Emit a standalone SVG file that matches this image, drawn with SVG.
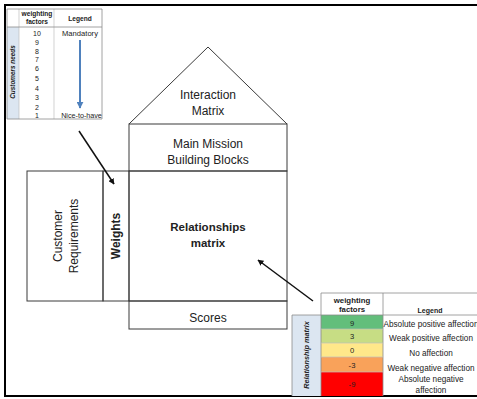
<svg xmlns="http://www.w3.org/2000/svg" width="477" height="399" viewBox="0 0 477 399">
<defs>
<style>
.h{fill:none;stroke:#3a3a3a;stroke-width:1}
.t{font-family:"Liberation Sans",Arial,sans-serif;fill:#222;text-anchor:middle}
.big{font-size:12px}
.bold{font-weight:bold}
.sm{font-size:7px}
.md{font-size:8.2px}
.grid{stroke:#bfbfbf;stroke-width:0.7;fill:none}
.bd{stroke:#8c8c8c;stroke-width:0.8;fill:none}
.frame{stroke:#000;stroke-width:2;fill:none}
.conn{stroke:#111;stroke-width:1.5;fill:none}
</style>
<marker id="ah" viewBox="0 0 10 10" refX="9" refY="5" markerWidth="6" markerHeight="6" orient="auto" markerUnits="userSpaceOnUse">
<path d="M0,0 L10,5 L0,10 z" fill="#111"/>
</marker>
<marker id="bh" viewBox="0 0 10 10" refX="9" refY="5" markerWidth="7" markerHeight="7" orient="auto" markerUnits="userSpaceOnUse">
<path d="M0,0 L10,5 L0,10 z" fill="#4f81bd"/>
</marker>
</defs>
<rect x="0" y="0" width="477" height="399" fill="#fff"/>
<path class="frame" d="M477,5 H5 V396 H477"/>

<g id="interaction-matrix">
<path class="h" d="M129,124 L208,47 L287,124"/>
<text class="t big" x="208" y="99">Interaction</text>
<text class="t big" x="208" y="115">Matrix</text>
</g>
<g id="main-mission">
<rect class="h" x="129" y="124" width="158" height="47"/>
<text class="t big" x="208" y="148">Main Mission</text>
<text class="t big" x="208" y="164">Building Blocks</text>
</g>
<g id="relationships-matrix">
<rect class="h" x="129" y="171" width="158" height="130"/>
<text class="t bold" font-size="11.5" x="208" y="231">Relationships</text>
<text class="t bold" font-size="11.5" x="208" y="247">matrix</text>
</g>
<g id="customer-requirements">
<rect class="h" x="27" y="171" width="76" height="130"/>
<text class="t big" transform="translate(62,236) rotate(-90)">Customer</text>
<text class="t big" transform="translate(78,236) rotate(-90)">Requirements</text>
</g>
<g id="weights">
<rect class="h" x="103" y="171" width="26" height="130"/>
<text class="t big bold" transform="translate(120,236) rotate(-90)">Weights</text>
</g>
<g id="scores">
<rect class="h" x="129" y="301" width="158" height="28"/>
<text class="t big" x="208" y="322">Scores</text>
</g>

<g id="customer-needs-table">
<rect x="7" y="27" width="12" height="92" fill="#dce6f1"/>
<path class="grid" d="M19,9 V119 M54,9 V119"/>
<path class="bd" d="M7,9 H102 V119 H7 Z M7,27 H102"/>
<text class="t bold" font-size="6.4" font-style="italic" transform="translate(15.3,72) rotate(-90)">Customers needs</text>
<text class="t bold" font-size="6.6" x="37" y="15.5">weighting</text>
<text class="t bold" font-size="6.6" x="37" y="24">factors</text>
<text class="t bold" font-size="6.6" x="80" y="21">Legend</text>
<g class="t sm">
<text x="37" y="35.5">10</text>
<text x="37" y="44.5">9</text>
<text x="37" y="53.5">8</text>
<text x="37" y="61.5">7</text>
<text x="37" y="70.5">6</text>
<text x="37" y="80.5">5</text>
<text x="37" y="90.5">4</text>
<text x="37" y="99.5">3</text>
<text x="37" y="109.5">2</text>
<text x="37" y="118">1</text>
<text x="80" y="35.5" font-size="7.6">Mandatory</text>
<text x="81.5" y="118" font-size="7.2">Nice-to-have</text>
</g>
<line x1="80" y1="40" x2="80" y2="108" stroke="#4f81bd" stroke-width="2" marker-end="url(#bh)"/>
</g>

<g id="relationship-table">
<rect x="292" y="315" width="29" height="81" fill="#dce6f1"/>
<rect x="321" y="315" width="62" height="14" fill="#63be7b"/>
<rect x="321" y="329" width="62" height="14" fill="#c7dd84"/>
<rect x="321" y="343" width="62" height="14" fill="#ffe88a"/>
<rect x="321" y="357" width="62" height="15" fill="#f9a25a"/>
<rect x="321" y="372" width="62" height="24" fill="#ff0000"/>
<path class="bd" d="M321,293 H477 M321,293 V396 M383,293 V396 M292,315 H477 M292,315 V396"/>
<path class="grid" d="M321,329 H383 M321,343 H383 M321,357 H383 M321,372 H383"/>
<text class="t bold" font-size="7.3" font-style="italic" transform="translate(308.5,355) rotate(-90)">Relationship matrix</text>
<text class="t bold" font-size="7.8" x="352" y="302.5">weighting</text>
<text class="t bold" font-size="7.8" x="352" y="312">factors</text>
<text class="t bold" font-size="7" x="430" y="313">Legend</text>
<g class="t" font-size="7.6">
<text x="352" y="325.5">9</text>
<text x="352" y="339">3</text>
<text x="352" y="353">0</text>
<text x="352" y="367.5">-3</text>
<text x="352" y="387">-9</text>
</g>
<g class="t md">
<text x="431" y="327">Absolute positive affection</text>
<text x="431" y="341">Weak positive affection</text>
<text x="431" y="356">No affection</text>
<text x="431" y="371">Weak negative affection</text>
<text x="431" y="382">Absolute negative</text>
<text x="431" y="393">affection</text>
</g>
</g>

<g id="connectors">
<line class="conn" x1="79" y1="131" x2="114" y2="184" marker-end="url(#ah)"/>
<line class="conn" x1="313" y1="301" x2="258" y2="260" marker-end="url(#ah)"/>
</g>
</svg>
